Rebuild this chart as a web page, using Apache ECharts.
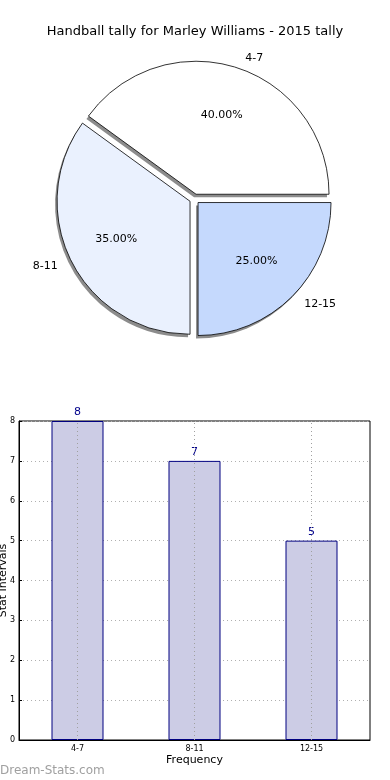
<!DOCTYPE html>
<html><head><meta charset="utf-8">
<script src="https://cdn.jsdelivr.net/npm/echarts@6/dist/echarts.min.js"></script>
<style>html,body{margin:0;padding:0;background:#fff}#c{width:390px;height:780px}</style>
</head><body><div id="c"></div>
<script>
const titleText = 'Handball tally for Marley Williams - 2015 tally';
const categories = ['4-7', '8-11', '12-15'];
const values = [8, 7, 5];
const sliceColors = ['#ffffff', '#eaf1fe', '#c5d9fd'];
const yTicks = [0, 1, 2, 3, 4, 5, 6, 7, 8];

const total = values.reduce((a, b) => a + b, 0);
const font = 'DejaVu Sans';
const pieCenter = [194.5, 199];
const shadowCenter = [192.5, 202];
const pieR = 133;

const pieData = categories.map((c, i) => ({
  name: c, value: values[i], selected: true,
  itemStyle: { color: sliceColors[i] }
}));
const plainData = categories.map((c, i) => ({
  name: c, value: values[i], selected: true
}));

const chart = echarts.init(document.getElementById('c'), null, { renderer: 'canvas' });
chart.setOption({
  animation: false,
  backgroundColor: '#ffffff',
  title: {
    text: titleText, left: 'center', top: 20,
    textStyle: { fontFamily: font, fontSize: 13, fontWeight: 'normal', color: '#000' }
  },
  graphic: [{
    type: 'text', left: 0, top: 765,
    style: { text: 'Dream-Stats.com', fill: '#a0a0a0', font: '12px "DejaVu Sans"' }
  }],
  grid: {
    left: 19, right: 20, top: 421, bottom: 40, show: true,
    containLabel: false, outerBoundsMode: 'none',
    borderColor: '#000', borderWidth: 1, backgroundColor: 'transparent'
  },
  xAxis: {
    type: 'category', data: categories,
    name: 'Frequency', nameLocation: 'middle', nameGap: 15, nameMoveOverlap: false,
    nameTextStyle: { fontFamily: font, fontSize: 11, color: '#000' },
    axisLine: { show: true, lineStyle: { color: '#000' } },
    axisTick: { show: false },
    axisLabel: { fontFamily: font, fontSize: 8, color: '#000', margin: 5 },
    splitLine: { show: false }
  },
  yAxis: {
    type: 'value', min: 0, max: 8, interval: 1,
    name: 'Stat Intervals', nameLocation: 'middle', nameGap: 10, nameMoveOverlap: false,
    nameTextStyle: { fontFamily: font, fontSize: 11, color: '#000' },
    axisLine: { show: true, lineStyle: { color: '#000' } },
    axisTick: { show: true, inside: true, length: 3, lineStyle: { color: '#000' } },
    axisLabel: { fontFamily: font, fontSize: 8, color: '#000', margin: 4 },
    splitLine: { show: true, lineStyle: { color: '#b0b0b0', type: [1, 3], width: 1 } }
  },
  series: [
    {
      type: 'pie', center: shadowCenter, radius: [0, pieR],
      clockwise: false, startAngle: 0,
      selectedMode: 'multiple', selectedOffset: 5,
      data: plainData,
      itemStyle: { color: '#8c8c8c', borderWidth: 0 },
      label: { show: false }, labelLine: { show: false },
      emphasis: { disabled: true }, silent: true,
      z: 1
    },
    {
      type: 'pie', center: pieCenter, radius: [0, pieR],
      clockwise: false, startAngle: 0,
      selectedMode: 'multiple', selectedOffset: 5,
      data: pieData,
      itemStyle: { borderColor: '#000', borderWidth: 0.8 },
      label: {
        show: true, position: 'outside', fontFamily: font, fontSize: 11, color: '#000',
        formatter: '{b}'
      },
      labelLine: { show: false, length: 10, length2: 0 },
      emphasis: { disabled: true },
      z: 2
    },
    {
      type: 'pie', center: pieCenter, radius: [0, pieR * 1.2],
      clockwise: false, startAngle: 0,
      selectedMode: 'multiple', selectedOffset: 5,
      data: plainData,
      itemStyle: { color: 'rgba(0,0,0,0)', borderWidth: 0 },
      label: {
        show: true, position: 'inside', fontFamily: font, fontSize: 11, color: '#000',
        formatter: p => (p.value / total * 100).toFixed(2) + '%'
      },
      labelLine: { show: false },
      emphasis: { disabled: true },
      silent: true,
      z: 3
    },
    {
      type: 'bar', data: values, barWidth: 52,
      itemStyle: { color: '#ccccE5', borderColor: '#000080', borderWidth: 1 },
      label: { show: true, position: 'top', fontFamily: font, fontSize: 11, color: '#00008b', distance: 3 },
      markLine: {
        silent: true, symbol: 'none',
        label: { show: false },
        lineStyle: { color: '#a0a0a0', type: [1, 3], width: 1 },
        data: categories.map(c => ({ xAxis: c }))
      },
      z: 2
    }
  ]
});
</script></body></html>
